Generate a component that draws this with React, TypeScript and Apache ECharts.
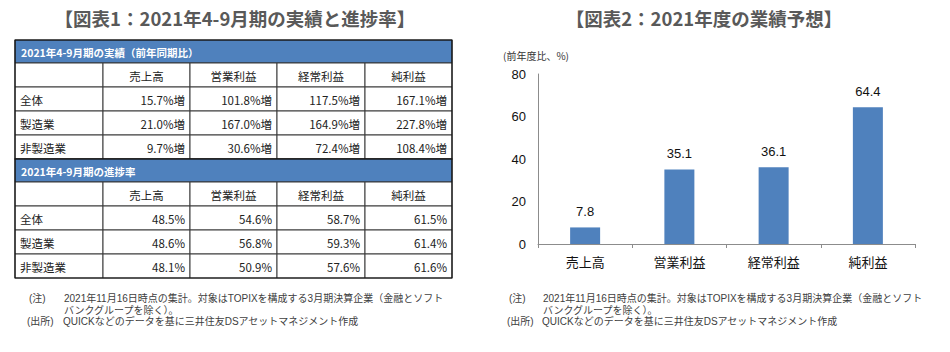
import React, { useEffect, useRef } from "react";
import * as echarts from "echarts";

const title1 = "【図表1：2021年4-9月期の実績と進捗率】";
const title2 = "【図表2：2021年度の業績予想】";
const section1 = "2021年4-9月期の実績（前年同期比）";
const section2 = "2021年4-9月期の進捗率";
const columns = ["売上高", "営業利益", "経常利益", "純利益"];
const rowLabels = ["全体", "製造業", "非製造業"];
const resultsAll = [15.7, 101.8, 117.5, 167.1];
const resultsMfg = [21.0, 167.0, 164.9, 227.8];
const resultsNonMfg = [9.7, 30.6, 72.4, 108.4];
const progressAll = [48.5, 54.6, 58.7, 61.5];
const progressMfg = [48.6, 56.8, 59.3, 61.4];
const progressNonMfg = [48.1, 50.9, 57.6, 61.6];
const forecastCategories = ["売上高", "営業利益", "経常利益", "純利益"];
const forecastValues = [7.8, 35.1, 36.1, 64.4];
const yUnit = "(前年度比、%)";
const noteLabel = "(注)";
const sourceLabel = "(出所)";
const noteLine1 = "2021年11月16日時点の集計。対象はTOPIXを構成する3月期決算企業（金融とソフト";
const noteLine2 = "バンクグループを除く）。";
const sourceText = "QUICKなどのデータを基に三井住友DSアセットマネジメント作成";

const JP = "'Noto Sans CJK JP', 'Noto Sans', sans-serif";
const NOTE_FONT = "'Liberation Sans', 'Noto Sans CJK JP', sans-serif";
const BLUE = "#4F81BD";

function txt(text: string, x: number, y: number, font: string, fill: string, align = "left", valign = "middle") {
  return {
    type: "text",
    silent: true,
    style: { text, x, y, font, fill, textAlign: align, align, textVerticalAlign: valign, verticalAlign: valign },
  };
}

function buildTable(): any[] {
  const els: any[] = [];
  const colX = [15, 103, 190, 277, 365, 452];
  const headerH = 23;
  const rowH = 24;
  const sections = [
    { title: section1, rows: [resultsAll, resultsMfg, resultsNonMfg], suffix: "%増", top: 40 },
    { title: section2, rows: [progressAll, progressMfg, progressNonMfg], suffix: "%", top: 159 },
  ];
  const cellFont = `11.5px ${JP}`;
  sections.forEach((sec) => {
    const left = colX[0];
    const right = colX[5];
    els.push({
      type: "rect",
      silent: true,
      shape: { x: left, y: sec.top, width: right - left, height: headerH },
      style: { fill: BLUE, stroke: "#2b2b2b", lineWidth: 1 },
    });
    els.push(txt(sec.title, left + 6, sec.top + headerH / 2 + 1, `bold 10.5px ${JP}`, "#ffffff"));
    const gridTop = sec.top + headerH;
    for (let r = 0; r < 4; r++) {
      const y = gridTop + r * rowH;
      for (let c = 0; c < 5; c++) {
        els.push({
          type: "rect",
          silent: true,
          shape: { x: colX[c], y, width: colX[c + 1] - colX[c], height: rowH },
          style: { fill: "#ffffff", stroke: "#3a3a3a", lineWidth: 1 },
        });
      }
      const cy = y + rowH / 2 + 1;
      if (r === 0) {
        columns.forEach((col, c) => {
          els.push(txt(col, (colX[c + 1] + colX[c + 2]) / 2, cy, cellFont, "#222", "center"));
        });
      } else {
        els.push(txt(rowLabels[r - 1], colX[0] + 5, cy, cellFont, "#222"));
        sec.rows[r - 1].forEach((v, c) => {
          els.push(txt(v.toFixed(1) + sec.suffix, colX[c + 2] - 5, cy, cellFont, "#222", "right"));
        });
      }
    }
    els.push({
      type: "rect",
      silent: true,
      shape: { x: left, y: sec.top, width: right - left, height: headerH + 4 * rowH },
      style: { fill: "none", stroke: "#111", lineWidth: 1.2 },
    });
  });
  return els;
}

function buildNotes(x0: number, xText: number): any[] {
  const f = `10px ${NOTE_FONT}`;
  const col = "#404040";
  return [
    txt(noteLabel, x0, 298.5, f, col),
    txt(noteLine1, xText, 298.5, f, col),
    txt(noteLine2, xText, 310, f, col),
    txt(sourceLabel, x0 - 2, 321.5, f, col),
    txt(sourceText, xText - 1, 321.5, f, col),
  ];
}

export default function App() {
  const ref = useRef<HTMLDivElement>(null);
  useEffect(() => {
    if (!ref.current) return;
    const chart = echarts.init(ref.current, undefined, { renderer: "svg" });
    chart.setOption({
      animation: false,
      backgroundColor: "#ffffff",
      grid: { left: 538, right: 35, top: 74, bottom: 108, containLabel: false },
      xAxis: {
        type: "category",
        data: forecastCategories,
        axisLine: { lineStyle: { color: "#8c8c8c", width: 1 } },
        axisTick: { show: true, length: 4, lineStyle: { color: "#8c8c8c" } },
        axisLabel: { color: "#111", fontSize: 13, fontFamily: JP, margin: 11 },
      },
      yAxis: {
        type: "value",
        min: 0,
        max: 80,
        interval: 20,
        axisLine: { show: true, lineStyle: { color: "#8c8c8c", width: 1 } },
        axisTick: { show: false },
        splitLine: { show: false },
        axisLabel: { color: "#111", fontSize: 13, fontFamily: "'Liberation Sans', Arial, sans-serif", margin: 12 },
      },
      series: [
        {
          type: "bar",
          data: forecastValues,
          barWidth: 30,
          itemStyle: { color: BLUE },
          label: {
            show: true,
            position: "top",
            distance: 9,
            color: "#111",
            fontSize: 13,
            fontFamily: "'Liberation Sans', Arial, sans-serif",
            formatter: (p: any) => p.value.toFixed(1),
          },
        },
      ],
      graphic: [
        txt(title1, 235, 18, `bold 18.5px ${JP}`, "#595959", "center"),
        txt(title2, 704, 18, `bold 18.5px ${JP}`, "#595959", "center"),
        txt(yUnit, 503, 55, `10px ${JP}`, "#333"),
        ...buildTable(),
        ...buildNotes(29, 64),
        ...buildNotes(509, 543),
      ],
    });
    return () => chart.dispose();
  }, []);
  return (
    <div
      ref={ref}
      style={{ position: "fixed", left: 0, top: 0, width: 950, height: 352, background: "#fff" }}
    />
  );
}
